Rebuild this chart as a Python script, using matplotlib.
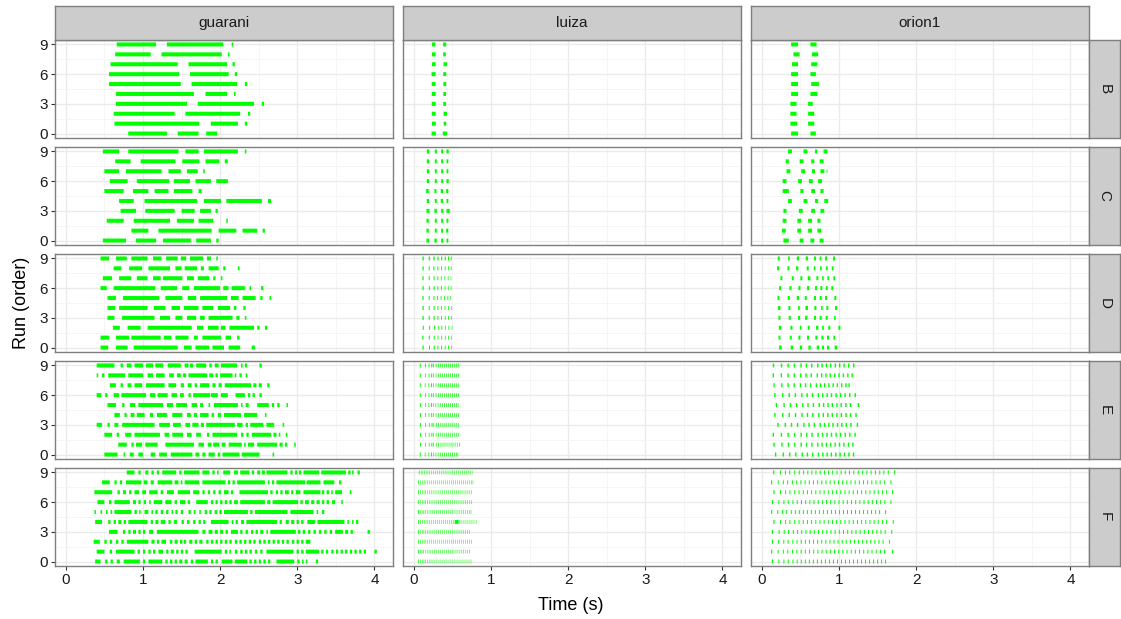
import matplotlib
matplotlib.use("Agg")
import matplotlib.pyplot as plt

plt.rcParams['font.family'] = ['Liberation Sans', 'DejaVu Sans']

# ---- data: one list per run (run 0 first), each run = list of (start, end) in seconds ----
configs = ['B', 'C', 'D', 'E', 'F']
machines = ['guarani', 'luiza', 'orion1']
x_ticks = [0, 1, 2, 3, 4]
y_ticks = [0, 3, 6, 9]

guarani_B = [
    [(0.81, 1.31), (1.45, 1.72), (1.82, 1.96)],
    [(0.63, 1.73), (1.88, 2.23), (2.32, 2.35)],
    [(0.62, 1.41), (1.55, 2.26), (2.36, 2.39)],
    [(0.65, 1.57), (1.71, 2.44), (2.54, 2.57)],
    [(0.65, 1.66), (1.81, 2.09), (2.18, 2.20)],
    [(0.56, 1.49), (1.63, 2.22), (2.32, 2.35)],
    [(0.56, 1.47), (1.61, 2.11), (2.19, 2.22)],
    [(0.58, 1.45), (1.59, 2.09), (2.16, 2.19)],
    [(0.64, 1.10), (1.24, 2.02), (2.10, 2.12)],
    [(0.66, 1.17), (1.31, 2.04), (2.15, 2.17)],
]
guarani_C = [
    [(0.48, 0.78), (0.91, 1.17), (1.26, 1.62), (1.69, 1.88), (1.95, 1.98)],
    [(0.85, 1.07), (1.20, 1.89), (1.98, 2.21), (2.29, 2.48), (2.55, 2.58)],
    [(0.53, 0.75), (0.88, 1.35), (1.44, 1.66), (1.72, 1.91), (2.08, 2.10)],
    [(0.71, 0.91), (1.03, 1.41), (1.50, 1.67), (1.74, 1.88), (1.94, 1.97)],
    [(0.69, 0.88), (1.02, 1.70), (1.79, 2.01), (2.08, 2.54), (2.62, 2.66)],
    [(0.50, 0.75), (0.87, 1.07), (1.15, 1.33), (1.40, 1.64), (1.72, 1.76)],
    [(0.57, 0.80), (0.92, 1.34), (1.40, 1.61), (1.68, 1.88), (1.95, 2.10)],
    [(0.50, 0.69), (0.78, 1.24), (1.33, 1.49), (1.57, 1.71), (1.78, 1.80)],
    [(0.64, 0.84), (0.97, 1.42), (1.51, 1.73), (1.81, 1.99), (2.06, 2.10)],
    [(0.48, 0.69), (0.81, 1.46), (1.55, 1.72), (1.79, 2.23), (2.32, 2.34)],
]
guarani_D = [
    [(0.45, 0.55), (0.65, 0.80), (0.88, 1.45), (1.53, 1.63), (1.68, 1.86), (1.90, 2.05), (2.11, 2.26), (2.41, 2.45)],
    [(0.45, 0.56), (0.65, 0.82), (0.85, 1.23), (1.27, 1.37), (1.42, 1.59), (1.66, 1.71), (1.77, 2.01), (2.07, 2.14), (2.22, 2.25)],
    [(0.61, 0.70), (0.80, 0.97), (1.06, 1.63), (1.70, 1.78), (1.84, 1.98), (2.01, 2.07), (2.12, 2.44), (2.48, 2.51), (2.58, 2.61)],
    [(0.54, 0.63), (0.73, 1.15), (1.22, 1.35), (1.42, 1.51), (1.57, 1.69), (1.74, 1.80), (1.85, 2.16), (2.21, 2.25), (2.32, 2.34)],
    [(0.54, 0.64), (0.69, 1.06), (1.14, 1.29), (1.37, 1.48), (1.53, 1.72), (1.77, 1.91), (1.97, 2.13), (2.18, 2.21), (2.30, 2.33)],
    [(0.54, 0.65), (0.74, 1.21), (1.29, 1.51), (1.58, 1.69), (1.74, 2.09), (2.14, 2.24), (2.29, 2.46), (2.52, 2.55), (2.64, 2.66)],
    [(0.45, 0.53), (0.62, 1.16), (1.23, 1.44), (1.51, 1.60), (1.66, 2.00), (2.04, 2.11), (2.15, 2.32), (2.38, 2.40), (2.53, 2.56)],
    [(0.48, 0.60), (0.69, 0.85), (0.92, 1.06), (1.13, 1.23), (1.26, 1.51), (1.57, 1.66), (1.71, 1.86), (1.91, 1.94), (2.01, 2.03)],
    [(0.62, 0.72), (0.82, 0.99), (1.07, 1.35), (1.42, 1.50), (1.54, 1.70), (1.75, 1.79), (1.85, 1.98), (2.04, 2.07), (2.23, 2.25)],
    [(0.45, 0.56), (0.65, 0.79), (0.85, 1.06), (1.13, 1.24), (1.30, 1.45), (1.49, 1.56), (1.61, 1.78), (1.83, 1.88), (1.95, 1.97)],
]
guarani_E = [
    [(0.50, 0.67), (0.75, 0.77), (0.83, 0.88), (0.94, 1.00), (1.10, 1.16), (1.21, 1.31), (1.36, 1.64), (1.68, 1.73), (1.77, 1.81),
     (1.85, 1.93), (1.97, 2.00), (2.03, 2.25), (2.28, 2.51), (2.68, 2.70)],
    [(0.68, 0.79), (0.85, 0.88), (0.91, 0.99), (1.03, 1.19), (1.29, 1.66), (1.72, 1.79), (1.84, 1.89), (1.91, 1.99), (2.02, 2.07),
     (2.11, 2.28), (2.31, 2.33), (2.36, 2.44), (2.48, 2.74), (2.77, 2.81), (2.84, 2.87), (2.96, 2.98)],
    [(0.50, 0.60), (0.66, 0.69), (0.77, 0.85), (0.89, 1.22), (1.28, 1.34), (1.38, 1.52), (1.57, 1.63), (1.69, 1.75), (1.83, 1.86),
     (1.90, 2.22), (2.27, 2.30), (2.34, 2.37), (2.41, 2.66), (2.69, 2.73), (2.76, 2.78), (2.85, 2.87)],
    [(0.40, 0.47), (0.54, 0.57), (0.63, 0.68), (0.73, 1.15), (1.21, 1.35), (1.39, 1.49), (1.55, 1.61), (1.64, 1.72), (1.75, 1.79),
     (1.82, 2.19), (2.22, 2.29), (2.33, 2.36), (2.39, 2.56), (2.60, 2.70), (2.81, 2.83)],
    [(0.63, 0.70), (0.76, 0.79), (0.84, 0.89), (0.92, 1.02), (1.09, 1.13), (1.18, 1.31), (1.38, 1.51), (1.57, 1.62), (1.66, 1.70),
     (1.74, 1.85), (1.89, 1.92), (1.97, 2.01), (2.05, 2.27), (2.31, 2.48), (2.58, 2.60)],
    [(0.54, 0.65), (0.73, 0.76), (0.83, 0.90), (0.94, 1.26), (1.31, 1.39), (1.43, 1.57), (1.63, 1.70), (1.74, 1.78), (1.85, 1.87),
     (1.92, 2.23), (2.27, 2.29), (2.33, 2.37), (2.48, 2.63), (2.67, 2.70), (2.74, 2.77), (2.86, 2.88)],
    [(0.40, 0.46), (0.51, 0.54), (0.62, 0.69), (0.72, 1.04), (1.09, 1.16), (1.19, 1.32), (1.37, 1.44), (1.48, 1.53), (1.59, 1.62),
     (1.65, 1.87), (1.88, 1.97), (2.01, 2.10), (2.20, 2.32), (2.36, 2.39), (2.42, 2.45), (2.51, 2.54)],
    [(0.57, 0.65), (0.71, 0.74), (0.80, 0.85), (0.89, 0.99), (1.04, 1.28), (1.33, 1.43), (1.49, 1.53), (1.58, 1.63), (1.67, 1.70),
     (1.74, 1.86), (1.90, 1.94), (1.98, 2.02), (2.06, 2.40), (2.43, 2.47), (2.50, 2.54), (2.61, 2.64)],
    [(0.40, 0.42), (0.47, 0.50), (0.55, 0.77), (0.81, 1.00), (1.06, 1.13), (1.17, 1.28), (1.34, 1.40), (1.44, 1.49), (1.52, 1.56),
     (1.59, 1.83), (1.86, 1.91), (1.94, 1.97), (2.00, 2.16), (2.19, 2.21), (2.25, 2.28), (2.33, 2.35)],
    [(0.40, 0.63), (0.71, 0.74), (0.79, 0.85), (0.89, 1.00), (1.04, 1.13), (1.16, 1.26), (1.32, 1.49), (1.54, 1.59), (1.61, 1.65),
     (1.69, 1.82), (1.86, 1.89), (1.93, 1.98), (2.01, 2.22), (2.27, 2.29), (2.32, 2.35), (2.51, 2.54)],
]
guarani_F = [
    [(0.38, 0.45), (0.51, 0.54), (0.58, 0.61), (0.66, 0.70), (0.75, 0.96), (1.00, 1.03), (1.07, 1.25), (1.29, 1.32), (1.35, 1.38),
     (1.41, 1.44), (1.47, 1.51), (1.54, 1.58), (1.62, 1.65), (1.68, 1.84), (1.88, 1.91), (1.94, 1.97), (2.02, 2.16), (2.19, 2.35),
     (2.38, 2.41), (2.44, 2.47), (2.50, 2.53), (2.56, 2.59), (2.62, 2.65), (2.73, 2.96), (3.00, 3.03), (3.06, 3.08), (3.11, 3.13),
     (3.24, 3.27)],
    [(0.40, 0.50), (0.57, 0.60), (0.65, 0.89), (0.93, 0.96), (1.00, 1.03), (1.07, 1.10), (1.13, 1.16), (1.20, 1.26), (1.30, 1.33),
     (1.36, 1.40), (1.43, 1.46), (1.49, 1.52), (1.55, 1.58), (1.67, 2.02), (2.06, 2.09), (2.12, 2.14), (2.19, 2.22), (2.26, 2.29),
     (2.32, 2.35), (2.38, 2.41), (2.45, 2.48), (2.52, 2.55), (2.60, 2.95), (2.99, 3.02), (3.05, 3.08), (3.11, 3.28), (3.31, 3.34),
     (3.37, 3.40), (3.44, 3.47), (3.50, 3.53), (3.56, 3.59), (3.62, 3.65), (3.68, 3.71), (3.74, 3.77), (3.80, 3.83), (3.86, 3.89),
     (4.00, 4.03)],
    [(0.36, 0.44), (0.50, 0.53), (0.57, 0.60), (0.65, 0.68), (0.72, 0.75), (0.79, 1.07), (1.11, 1.15), (1.18, 1.21), (1.24, 1.30),
     (1.35, 1.38), (1.41, 1.45), (1.48, 1.51), (1.53, 1.56), (1.60, 1.64), (1.67, 1.70), (1.73, 1.77), (1.82, 1.85), (1.88, 1.91),
     (1.94, 1.97), (2.00, 2.03), (2.06, 2.09), (2.12, 2.15), (2.19, 2.22), (2.25, 2.28), (2.31, 2.34), (2.37, 2.40), (2.43, 2.46),
     (2.50, 2.53), (2.56, 2.59), (2.62, 2.65), (2.68, 2.71), (2.74, 2.77), (2.80, 2.83), (2.86, 2.89), (2.93, 2.96), (2.99, 3.02),
     (3.05, 3.08), (3.11, 3.17)],
    [(0.56, 0.67), (0.74, 0.77), (0.81, 0.84), (0.87, 0.91), (0.94, 0.97), (1.00, 1.03), (1.08, 1.13), (1.18, 1.72), (1.77, 1.81),
     (1.85, 1.90), (1.93, 1.97), (2.00, 2.04), (2.07, 2.10), (2.14, 2.23), (2.26, 2.29), (2.33, 2.36), (2.40, 2.43), (2.46, 2.49),
     (2.52, 2.56), (2.60, 2.62), (2.65, 2.98), (3.01, 3.04), (3.07, 3.10), (3.14, 3.17), (3.21, 3.24), (3.28, 3.31), (3.35, 3.38),
     (3.42, 3.45), (3.49, 3.59), (3.62, 3.66), (3.69, 3.72), (3.91, 3.94)],
    [(0.38, 0.47), (0.55, 0.58), (0.62, 0.65), (0.68, 0.72), (0.75, 0.78), (0.81, 1.06), (1.10, 1.13), (1.16, 1.20), (1.23, 1.29),
     (1.33, 1.36), (1.40, 1.44), (1.50, 1.53), (1.57, 1.60), (1.65, 1.68), (1.72, 1.75), (1.78, 1.81), (1.88, 2.11), (2.15, 2.17),
     (2.20, 2.23), (2.27, 2.31), (2.34, 2.74), (2.77, 2.80), (2.85, 2.89), (2.92, 2.96), (2.99, 3.02), (3.05, 3.08), (3.13, 3.23),
     (3.26, 3.61), (3.65, 3.67), (3.71, 3.73), (3.76, 3.79)],
    [(0.37, 0.39), (0.45, 0.47), (0.52, 0.54), (0.58, 0.60), (0.63, 0.85), (0.89, 0.92), (0.95, 0.97), (1.02, 1.07), (1.11, 1.13),
     (1.16, 1.19), (1.23, 1.26), (1.30, 1.33), (1.37, 1.39), (1.42, 1.45), (1.49, 1.52), (1.59, 1.62), (1.66, 1.68), (1.73, 1.75),
     (1.80, 1.83), (1.86, 1.89), (1.93, 1.96), (1.99, 2.02), (2.05, 2.36), (2.39, 2.42), (2.45, 2.87), (2.91, 3.21), (3.25, 3.27),
     (3.32, 3.35)],
    [(0.41, 0.50), (0.56, 0.59), (0.63, 0.83), (0.87, 0.91), (0.94, 0.97), (1.01, 1.04), (1.08, 1.10), (1.14, 1.25), (1.29, 1.37),
     (1.41, 1.44), (1.48, 1.55), (1.58, 1.61), (1.69, 1.84), (1.88, 1.91), (1.94, 1.97), (2.00, 2.03), (2.06, 2.09), (2.12, 2.15),
     (2.18, 2.23), (2.26, 2.58), (2.61, 2.65), (2.68, 3.01), (3.04, 3.07), (3.10, 3.15), (3.18, 3.22), (3.25, 3.29), (3.32, 3.35),
     (3.38, 3.41), (3.45, 3.49), (3.57, 3.59)],
    [(0.37, 0.60), (0.67, 0.70), (0.74, 0.78), (0.82, 0.85), (0.89, 0.95), (0.99, 1.04), (1.08, 1.19), (1.23, 1.26), (1.31, 1.40),
     (1.45, 1.61), (1.65, 1.73), (1.77, 1.80), (1.84, 1.87), (1.91, 1.94), (1.98, 2.01), (2.05, 2.11), (2.14, 2.17), (2.25, 2.62),
     (2.65, 2.68), (2.72, 2.75), (2.78, 2.81), (2.84, 2.89), (2.92, 2.95), (2.98, 3.04), (3.08, 3.30), (3.32, 3.35), (3.38, 3.41),
     (3.44, 3.46), (3.49, 3.58), (3.68, 3.70)],
    [(0.47, 0.57), (0.63, 0.66), (0.70, 0.73), (0.78, 0.98), (1.01, 1.06), (1.10, 1.14), (1.19, 1.38), (1.41, 1.46), (1.49, 1.51),
     (1.54, 1.73), (1.77, 2.07), (2.10, 2.13), (2.16, 2.19), (2.22, 2.58), (2.62, 2.64), (2.67, 2.70), (2.73, 3.10), (3.12, 3.30),
     (3.34, 3.48), (3.54, 3.57)],
    [(0.79, 0.89), (0.94, 0.97), (1.03, 1.07), (1.11, 1.14), (1.18, 1.21), (1.25, 1.43), (1.47, 1.50), (1.53, 1.73), (1.77, 1.86),
     (1.90, 1.93), (1.96, 1.98), (2.04, 2.13), (2.18, 2.23), (2.26, 2.38), (2.41, 2.44), (2.48, 2.52), (2.54, 2.58), (2.60, 2.87),
     (2.91, 2.94), (2.97, 3.00), (3.02, 3.05), (3.08, 3.28), (3.31, 3.63), (3.66, 3.69), (3.71, 3.73), (3.78, 3.81)],
]

luiza_B = [
    [(0.230, 0.285), (0.375, 0.430)],
    [(0.235, 0.285), (0.387, 0.420)],
    [(0.232, 0.283), (0.385, 0.430)],
    [(0.232, 0.283), (0.382, 0.418)],
    [(0.232, 0.283), (0.382, 0.418)],
    [(0.232, 0.283), (0.382, 0.420)],
    [(0.230, 0.283), (0.382, 0.420)],
    [(0.235, 0.283), (0.385, 0.430)],
    [(0.235, 0.283), (0.380, 0.415)],
    [(0.235, 0.280), (0.380, 0.420)],
]
luiza_C = [
    [(0.164, 0.198), (0.267, 0.298), (0.354, 0.379), (0.423, 0.448)],
    [(0.164, 0.194), (0.272, 0.298), (0.354, 0.379), (0.418, 0.448)],
    [(0.164, 0.194), (0.272, 0.298), (0.354, 0.379), (0.423, 0.448)],
    [(0.164, 0.203), (0.267, 0.298), (0.354, 0.384), (0.423, 0.466)],
    [(0.168, 0.198), (0.272, 0.298), (0.349, 0.379), (0.423, 0.448)],
    [(0.160, 0.194), (0.267, 0.293), (0.349, 0.379), (0.418, 0.448)],
    [(0.168, 0.198), (0.272, 0.298), (0.354, 0.379), (0.423, 0.453)],
    [(0.168, 0.198), (0.272, 0.298), (0.354, 0.379), (0.423, 0.448)],
    [(0.168, 0.198), (0.272, 0.298), (0.354, 0.379), (0.423, 0.448)],
    [(0.168, 0.198), (0.272, 0.298), (0.354, 0.379), (0.423, 0.453)],
]
luiza_D = [
    [(0.112, 0.128), (0.197, 0.210), (0.258, 0.272), (0.306, 0.318), (0.354, 0.366), (0.401, 0.412), (0.444, 0.455), (0.484, 0.492)],
    [(0.110, 0.126), (0.195, 0.208), (0.258, 0.271), (0.308, 0.319), (0.356, 0.367), (0.403, 0.413), (0.446, 0.456), (0.486, 0.494)],
    [(0.116, 0.130), (0.198, 0.211), (0.263, 0.276), (0.311, 0.322), (0.358, 0.369), (0.405, 0.415), (0.449, 0.459), (0.492, 0.500)],
    [(0.112, 0.128), (0.194, 0.207), (0.256, 0.270), (0.306, 0.318), (0.354, 0.365), (0.402, 0.412), (0.445, 0.455), (0.484, 0.492)],
    [(0.112, 0.128), (0.194, 0.207), (0.256, 0.270), (0.306, 0.318), (0.352, 0.364), (0.399, 0.410), (0.444, 0.454), (0.482, 0.490)],
    [(0.112, 0.127), (0.193, 0.206), (0.255, 0.268), (0.302, 0.314), (0.348, 0.359), (0.393, 0.404), (0.436, 0.446), (0.470, 0.478)],
    [(0.112, 0.128), (0.196, 0.209), (0.256, 0.270), (0.306, 0.318), (0.352, 0.364), (0.399, 0.410), (0.441, 0.451), (0.478, 0.487)],
    [(0.112, 0.127), (0.194, 0.207), (0.256, 0.269), (0.305, 0.317), (0.351, 0.362), (0.397, 0.408), (0.440, 0.450), (0.478, 0.486)],
    [(0.112, 0.128), (0.194, 0.207), (0.254, 0.268), (0.306, 0.318), (0.354, 0.365), (0.401, 0.412), (0.444, 0.454), (0.480, 0.489)],
    [(0.112, 0.129), (0.194, 0.209), (0.254, 0.270), (0.306, 0.320), (0.354, 0.368), (0.401, 0.414), (0.444, 0.456), (0.479, 0.490)],
]
luiza_E = [
    [(0.078, 0.090), (0.143, 0.153), (0.190, 0.200), (0.224, 0.236), (0.249, 0.258), (0.282, 0.291), (0.311, 0.320), (0.340, 0.349),
     (0.366, 0.375), (0.392, 0.401), (0.417, 0.426), (0.443, 0.452), (0.469, 0.478), (0.495, 0.504), (0.520, 0.529), (0.546, 0.555),
     (0.566, 0.574)],
    [(0.082, 0.094), (0.147, 0.157), (0.194, 0.204), (0.228, 0.240), (0.252, 0.261), (0.287, 0.296), (0.317, 0.326), (0.347, 0.356),
     (0.374, 0.383), (0.400, 0.409), (0.426, 0.435), (0.452, 0.461), (0.478, 0.487), (0.504, 0.513), (0.531, 0.540), (0.558, 0.567),
     (0.586, 0.595)],
    [(0.082, 0.094), (0.147, 0.157), (0.194, 0.204), (0.228, 0.240), (0.251, 0.260), (0.285, 0.294), (0.315, 0.324), (0.345, 0.354),
     (0.371, 0.380), (0.397, 0.406), (0.422, 0.431), (0.448, 0.457), (0.474, 0.483), (0.500, 0.509), (0.526, 0.535), (0.552, 0.561),
     (0.578, 0.586)],
    [(0.082, 0.094), (0.149, 0.159), (0.196, 0.206), (0.230, 0.242), (0.254, 0.263), (0.288, 0.297), (0.317, 0.326), (0.346, 0.355),
     (0.372, 0.381), (0.398, 0.407), (0.423, 0.432), (0.449, 0.458), (0.475, 0.484), (0.501, 0.510), (0.527, 0.536), (0.553, 0.562),
     (0.578, 0.586)],
    [(0.082, 0.094), (0.145, 0.155), (0.192, 0.202), (0.226, 0.238), (0.250, 0.259), (0.284, 0.293), (0.314, 0.323), (0.344, 0.353),
     (0.370, 0.379), (0.396, 0.405), (0.421, 0.430), (0.447, 0.456), (0.473, 0.482), (0.499, 0.508), (0.525, 0.534), (0.551, 0.560),
     (0.577, 0.586)],
    [(0.082, 0.094), (0.145, 0.155), (0.190, 0.200), (0.224, 0.236), (0.248, 0.257), (0.280, 0.289), (0.310, 0.319), (0.339, 0.348),
     (0.365, 0.374), (0.391, 0.400), (0.417, 0.426), (0.443, 0.452), (0.469, 0.478), (0.495, 0.504), (0.521, 0.530), (0.547, 0.556),
     (0.570, 0.578)],
    [(0.078, 0.090), (0.145, 0.155), (0.192, 0.202), (0.226, 0.238), (0.250, 0.259), (0.284, 0.293), (0.314, 0.323), (0.344, 0.353),
     (0.370, 0.379), (0.396, 0.405), (0.421, 0.430), (0.447, 0.456), (0.473, 0.482), (0.499, 0.508), (0.525, 0.534), (0.551, 0.560),
     (0.577, 0.586)],
    [(0.078, 0.090), (0.143, 0.153), (0.190, 0.200), (0.224, 0.236), (0.248, 0.257), (0.283, 0.292), (0.313, 0.322), (0.343, 0.352),
     (0.369, 0.378), (0.395, 0.404), (0.420, 0.429), (0.446, 0.455), (0.472, 0.481), (0.498, 0.507), (0.524, 0.533), (0.550, 0.559),
     (0.577, 0.586)],
    [(0.078, 0.090), (0.145, 0.155), (0.192, 0.202), (0.226, 0.238), (0.250, 0.259), (0.284, 0.293), (0.314, 0.323), (0.344, 0.353),
     (0.370, 0.379), (0.396, 0.405), (0.421, 0.430), (0.447, 0.456), (0.473, 0.482), (0.499, 0.508), (0.525, 0.534), (0.551, 0.560),
     (0.577, 0.586)],
    [(0.078, 0.090), (0.145, 0.156), (0.192, 0.203), (0.226, 0.240), (0.250, 0.260), (0.284, 0.294), (0.314, 0.324), (0.344, 0.354),
     (0.370, 0.380), (0.396, 0.406), (0.421, 0.431), (0.447, 0.457), (0.473, 0.483), (0.499, 0.509), (0.525, 0.535), (0.551, 0.561),
     (0.577, 0.586)],
]
luiza_F = [
    [(0.056, 0.066), (0.085, 0.092), (0.108, 0.115), (0.128, 0.135), (0.150, 0.157), (0.172, 0.179), (0.196, 0.203), (0.220, 0.227),
     (0.245, 0.252), (0.270, 0.277), (0.296, 0.303), (0.322, 0.329), (0.348, 0.355), (0.374, 0.381), (0.400, 0.407), (0.426, 0.433),
     (0.452, 0.459), (0.478, 0.485), (0.504, 0.511), (0.530, 0.537), (0.556, 0.563), (0.582, 0.589), (0.608, 0.615), (0.634, 0.641),
     (0.660, 0.667), (0.686, 0.693), (0.712, 0.719), (0.738, 0.745)],
    [(0.056, 0.066), (0.082, 0.089), (0.104, 0.111), (0.125, 0.132), (0.146, 0.153), (0.170, 0.177), (0.194, 0.201), (0.218, 0.225),
     (0.243, 0.250), (0.268, 0.275), (0.293, 0.300), (0.318, 0.325), (0.343, 0.350), (0.368, 0.375), (0.393, 0.400), (0.418, 0.425),
     (0.443, 0.450), (0.468, 0.475), (0.493, 0.500), (0.518, 0.525), (0.543, 0.550), (0.568, 0.575), (0.593, 0.600), (0.618, 0.625),
     (0.643, 0.650), (0.668, 0.675), (0.693, 0.700), (0.718, 0.725)],
    [(0.056, 0.066), (0.085, 0.092), (0.110, 0.117), (0.130, 0.137), (0.152, 0.159), (0.175, 0.182), (0.199, 0.206), (0.224, 0.231),
     (0.249, 0.256), (0.274, 0.281), (0.300, 0.307), (0.326, 0.333), (0.352, 0.359), (0.378, 0.385), (0.404, 0.411), (0.430, 0.437),
     (0.456, 0.463), (0.482, 0.489), (0.508, 0.515), (0.534, 0.541), (0.560, 0.567), (0.586, 0.593), (0.612, 0.619), (0.638, 0.645),
     (0.664, 0.671), (0.690, 0.697), (0.716, 0.723), (0.742, 0.749)],
    [(0.056, 0.066), (0.084, 0.091), (0.106, 0.113), (0.127, 0.134), (0.148, 0.155), (0.171, 0.178), (0.195, 0.202), (0.219, 0.226),
     (0.244, 0.251), (0.269, 0.276), (0.294, 0.301), (0.319, 0.326), (0.344, 0.351), (0.369, 0.376), (0.394, 0.401), (0.419, 0.426),
     (0.444, 0.451), (0.469, 0.476), (0.494, 0.501), (0.519, 0.526), (0.544, 0.551), (0.569, 0.576), (0.594, 0.601), (0.619, 0.626),
     (0.644, 0.651), (0.669, 0.676), (0.694, 0.701), (0.719, 0.726)],
    [(0.056, 0.066), (0.086, 0.093), (0.110, 0.117), (0.132, 0.139), (0.155, 0.162), (0.178, 0.185), (0.202, 0.209), (0.227, 0.234),
     (0.252, 0.259), (0.278, 0.285), (0.304, 0.311), (0.330, 0.337), (0.356, 0.363), (0.382, 0.389), (0.408, 0.415), (0.434, 0.441),
     (0.460, 0.467), (0.486, 0.493), (0.512, 0.519), (0.530, 0.581), (0.594, 0.601), (0.620, 0.627), (0.646, 0.653), (0.672, 0.679),
     (0.698, 0.705), (0.724, 0.731), (0.750, 0.757), (0.776, 0.783), (0.804, 0.811)],
    [(0.056, 0.066), (0.083, 0.090), (0.105, 0.112), (0.126, 0.133), (0.147, 0.154), (0.170, 0.177), (0.194, 0.201), (0.218, 0.225),
     (0.243, 0.250), (0.268, 0.275), (0.293, 0.300), (0.318, 0.325), (0.343, 0.350), (0.368, 0.375), (0.393, 0.400), (0.418, 0.425),
     (0.443, 0.450), (0.468, 0.475), (0.493, 0.500), (0.518, 0.525), (0.543, 0.550), (0.568, 0.575), (0.593, 0.600), (0.618, 0.625),
     (0.643, 0.650), (0.668, 0.675), (0.693, 0.700), (0.718, 0.725), (0.738, 0.745)],
    [(0.056, 0.066), (0.084, 0.091), (0.107, 0.114), (0.128, 0.135), (0.149, 0.156), (0.172, 0.179), (0.196, 0.203), (0.220, 0.227),
     (0.245, 0.252), (0.270, 0.277), (0.295, 0.302), (0.320, 0.327), (0.345, 0.352), (0.370, 0.377), (0.395, 0.402), (0.420, 0.427),
     (0.445, 0.452), (0.470, 0.477), (0.495, 0.502), (0.520, 0.527), (0.545, 0.552), (0.570, 0.577), (0.595, 0.602), (0.620, 0.627),
     (0.645, 0.652), (0.670, 0.677), (0.695, 0.702), (0.720, 0.727), (0.745, 0.752)],
    [(0.056, 0.066), (0.084, 0.091), (0.107, 0.114), (0.129, 0.136), (0.151, 0.158), (0.174, 0.181), (0.198, 0.205), (0.222, 0.229),
     (0.247, 0.254), (0.272, 0.279), (0.297, 0.304), (0.322, 0.329), (0.347, 0.354), (0.372, 0.379), (0.397, 0.404), (0.422, 0.429),
     (0.447, 0.454), (0.472, 0.479), (0.497, 0.504), (0.522, 0.529), (0.547, 0.554), (0.572, 0.579), (0.597, 0.604), (0.622, 0.629),
     (0.647, 0.654), (0.672, 0.679), (0.697, 0.704), (0.722, 0.729), (0.746, 0.753)],
    [(0.056, 0.066), (0.085, 0.092), (0.109, 0.116), (0.131, 0.138), (0.153, 0.160), (0.176, 0.183), (0.200, 0.207), (0.225, 0.232),
     (0.250, 0.257), (0.275, 0.282), (0.300, 0.307), (0.326, 0.333), (0.352, 0.359), (0.378, 0.385), (0.404, 0.411), (0.430, 0.437),
     (0.456, 0.463), (0.482, 0.489), (0.508, 0.515), (0.534, 0.541), (0.560, 0.567), (0.586, 0.593), (0.612, 0.619), (0.638, 0.645),
     (0.664, 0.671), (0.690, 0.697), (0.716, 0.723), (0.742, 0.749), (0.763, 0.770)],
    [(0.065, 0.075), (0.092, 0.099), (0.114, 0.121), (0.135, 0.142), (0.156, 0.163), (0.179, 0.186), (0.203, 0.210), (0.227, 0.234),
     (0.252, 0.259), (0.277, 0.284), (0.302, 0.309), (0.327, 0.334), (0.352, 0.359), (0.377, 0.384), (0.402, 0.409), (0.427, 0.434),
     (0.452, 0.459), (0.477, 0.484), (0.502, 0.509), (0.527, 0.534), (0.552, 0.559), (0.577, 0.584), (0.602, 0.609), (0.627, 0.634),
     (0.652, 0.659), (0.677, 0.684), (0.702, 0.709), (0.727, 0.734), (0.752, 0.759)],
]

orion1_B = [
    [(0.38, 0.47), (0.63, 0.70)],
    [(0.37, 0.46), (0.60, 0.68)],
    [(0.37, 0.45), (0.60, 0.68)],
    [(0.37, 0.45), (0.60, 0.66)],
    [(0.38, 0.47), (0.63, 0.72)],
    [(0.38, 0.47), (0.64, 0.74)],
    [(0.38, 0.47), (0.63, 0.70)],
    [(0.39, 0.47), (0.64, 0.72)],
    [(0.41, 0.49), (0.65, 0.73)],
    [(0.38, 0.47), (0.63, 0.71)],
]
orion1_C = [
    [(0.28, 0.35), (0.49, 0.54), (0.63, 0.68), (0.75, 0.80)],
    [(0.26, 0.31), (0.46, 0.51), (0.60, 0.65), (0.72, 0.77)],
    [(0.27, 0.32), (0.46, 0.51), (0.60, 0.65), (0.72, 0.76)],
    [(0.28, 0.32), (0.48, 0.53), (0.64, 0.69), (0.76, 0.81)],
    [(0.34, 0.39), (0.54, 0.59), (0.69, 0.73), (0.81, 0.86)],
    [(0.27, 0.35), (0.50, 0.54), (0.64, 0.69), (0.76, 0.80)],
    [(0.27, 0.32), (0.47, 0.52), (0.61, 0.66), (0.73, 0.78)],
    [(0.32, 0.37), (0.51, 0.56), (0.65, 0.69), (0.76, 0.81), (0.84, 0.85)],
    [(0.31, 0.35), (0.49, 0.54), (0.64, 0.68), (0.75, 0.80)],
    [(0.34, 0.39), (0.54, 0.59), (0.69, 0.72), (0.80, 0.85)],
]
orion1_D = [
    [(0.224, 0.259), (0.375, 0.405), (0.492, 0.522), (0.604, 0.634), (0.712, 0.742), (0.781, 0.806), (0.845, 0.871), (0.944, 0.975)],
    [(0.216, 0.241), (0.362, 0.388), (0.474, 0.500), (0.586, 0.612), (0.694, 0.720), (0.772, 0.798), (0.845, 0.871), (0.927, 0.949)],
    [(0.220, 0.250), (0.371, 0.397), (0.492, 0.513), (0.595, 0.621), (0.703, 0.733), (0.781, 0.802), (0.862, 0.888), (0.992, 1.018)],
    [(0.216, 0.241), (0.349, 0.375), (0.470, 0.496), (0.561, 0.591), (0.677, 0.703), (0.750, 0.776), (0.828, 0.854), (0.936, 0.957)],
    [(0.211, 0.241), (0.345, 0.371), (0.470, 0.492), (0.565, 0.599), (0.681, 0.707), (0.768, 0.789), (0.837, 0.862), (0.949, 0.975)],
    [(0.203, 0.229), (0.336, 0.362), (0.453, 0.483), (0.556, 0.582), (0.677, 0.703), (0.750, 0.776), (0.819, 0.845), (0.940, 0.966)],
    [(0.224, 0.250), (0.358, 0.384), (0.474, 0.500), (0.586, 0.617), (0.690, 0.716), (0.759, 0.785), (0.832, 0.854), (0.901, 0.927)],
    [(0.241, 0.267), (0.388, 0.414), (0.500, 0.526), (0.595, 0.630), (0.707, 0.733), (0.781, 0.802), (0.850, 0.871), (0.927, 0.949)],
    [(0.198, 0.224), (0.332, 0.358), (0.444, 0.474), (0.582, 0.608), (0.673, 0.694), (0.755, 0.776), (0.832, 0.854), (0.906, 0.931)],
    [(0.207, 0.233), (0.341, 0.362), (0.453, 0.483), (0.569, 0.599), (0.677, 0.703), (0.750, 0.772), (0.819, 0.845), (0.923, 0.949)],
]
orion1_E = [
    [(0.170, 0.188), (0.270, 0.288), (0.352, 0.370), (0.432, 0.450), (0.515, 0.533), (0.582, 0.600), (0.650, 0.668), (0.725, 0.743),
     (0.782, 0.800), (0.838, 0.856), (0.892, 0.910), (0.950, 0.968), (1.005, 1.023), (1.062, 1.080), (1.120, 1.138), (1.180, 1.198)],
    [(0.150, 0.168), (0.252, 0.270), (0.336, 0.354), (0.418, 0.436), (0.502, 0.520), (0.570, 0.588), (0.640, 0.658), (0.716, 0.734),
     (0.772, 0.790), (0.828, 0.846), (0.884, 0.902), (0.942, 0.960), (0.998, 1.016), (1.055, 1.073), (1.114, 1.132), (1.172, 1.190)],
    [(0.140, 0.158), (0.245, 0.263), (0.332, 0.350), (0.416, 0.434), (0.502, 0.520), (0.572, 0.590), (0.642, 0.660), (0.720, 0.738),
     (0.778, 0.796), (0.836, 0.854), (0.894, 0.912), (0.954, 0.972), (1.012, 1.030), (1.072, 1.090), (1.132, 1.150), (1.200, 1.218)],
    [(0.200, 0.218), (0.296, 0.314), (0.376, 0.394), (0.454, 0.472), (0.536, 0.554), (0.604, 0.622), (0.672, 0.690), (0.748, 0.766),
     (0.804, 0.822), (0.860, 0.878), (0.914, 0.932), (0.972, 0.990), (1.028, 1.046), (1.086, 1.104), (1.146, 1.164), (1.230, 1.248)],
    [(0.160, 0.178), (0.262, 0.280), (0.346, 0.364), (0.428, 0.446), (0.512, 0.530), (0.582, 0.600), (0.652, 0.670), (0.730, 0.748),
     (0.788, 0.806), (0.846, 0.864), (0.904, 0.922), (0.964, 0.982), (1.022, 1.040), (1.082, 1.100), (1.142, 1.160), (1.212, 1.230)],
    [(0.180, 0.198), (0.280, 0.298), (0.362, 0.380), (0.440, 0.458), (0.522, 0.540), (0.590, 0.608), (0.660, 0.678), (0.735, 0.753),
     (0.792, 0.810), (0.850, 0.868), (0.905, 0.923), (0.965, 0.983), (1.020, 1.038), (1.080, 1.098), (1.140, 1.158), (1.242, 1.260)],
    [(0.160, 0.178), (0.262, 0.280), (0.346, 0.364), (0.426, 0.444), (0.510, 0.528), (0.578, 0.596), (0.648, 0.666), (0.724, 0.742),
     (0.780, 0.798), (0.838, 0.856), (0.894, 0.912), (0.954, 0.972), (1.012, 1.030), (1.070, 1.088), (1.130, 1.148), (1.202, 1.220)],
    [(0.150, 0.168), (0.250, 0.268), (0.332, 0.350), (0.410, 0.428), (0.492, 0.510), (0.558, 0.576), (0.624, 0.642), (0.698, 0.716),
     (0.752, 0.770), (0.806, 0.824), (0.860, 0.878), (0.916, 0.934), (0.970, 0.988), (1.026, 1.044), (1.082, 1.100), (1.122, 1.140)],
    [(0.140, 0.158), (0.244, 0.262), (0.330, 0.348), (0.412, 0.430), (0.496, 0.514), (0.564, 0.582), (0.632, 0.650), (0.710, 0.728),
     (0.766, 0.784), (0.822, 0.840), (0.878, 0.896), (0.936, 0.954), (0.992, 1.010), (1.048, 1.066), (1.106, 1.124), (1.162, 1.180)],
    [(0.142, 0.160), (0.246, 0.264), (0.332, 0.350), (0.414, 0.432), (0.500, 0.518), (0.569, 0.587), (0.638, 0.656), (0.716, 0.734),
     (0.772, 0.790), (0.828, 0.846), (0.884, 0.902), (0.944, 0.962), (1.000, 1.018), (1.057, 1.075), (1.117, 1.135), (1.182, 1.200)],
]
orion1_F = [
    [(0.130, 0.145), (0.215, 0.228), (0.280, 0.293), (0.336, 0.349), (0.398, 0.411), (0.452, 0.465), (0.506, 0.519), (0.558, 0.571),
     (0.610, 0.623), (0.662, 0.675), (0.714, 0.727), (0.766, 0.779), (0.818, 0.831), (0.870, 0.883), (0.922, 0.935), (0.974, 0.987),
     (1.026, 1.039), (1.078, 1.091), (1.130, 1.143), (1.182, 1.195), (1.234, 1.247), (1.286, 1.299), (1.338, 1.351), (1.390, 1.403),
     (1.442, 1.455), (1.494, 1.507), (1.546, 1.559), (1.597, 1.610)],
    [(0.120, 0.135), (0.205, 0.218), (0.272, 0.285), (0.330, 0.343), (0.392, 0.405), (0.448, 0.461), (0.504, 0.517), (0.558, 0.571),
     (0.612, 0.625), (0.666, 0.679), (0.720, 0.733), (0.774, 0.787), (0.828, 0.841), (0.882, 0.895), (0.936, 0.949), (0.990, 1.003),
     (1.044, 1.057), (1.098, 1.111), (1.152, 1.165), (1.206, 1.219), (1.260, 1.273), (1.314, 1.327), (1.368, 1.381), (1.422, 1.435),
     (1.476, 1.489), (1.530, 1.543), (1.584, 1.597), (1.686, 1.699)],
    [(0.130, 0.145), (0.212, 0.225), (0.278, 0.291), (0.334, 0.347), (0.396, 0.409), (0.450, 0.463), (0.505, 0.518), (0.558, 0.571),
     (0.611, 0.624), (0.664, 0.677), (0.717, 0.730), (0.770, 0.783), (0.823, 0.836), (0.876, 0.889), (0.929, 0.942), (0.982, 0.995),
     (1.035, 1.048), (1.088, 1.101), (1.141, 1.154), (1.194, 1.207), (1.247, 1.260), (1.300, 1.313), (1.353, 1.366), (1.406, 1.419),
     (1.459, 1.472), (1.512, 1.525), (1.565, 1.578), (1.647, 1.660)],
    [(0.130, 0.145), (0.218, 0.231), (0.284, 0.297), (0.340, 0.353), (0.402, 0.415), (0.457, 0.470), (0.512, 0.525), (0.566, 0.579),
     (0.620, 0.633), (0.674, 0.687), (0.728, 0.741), (0.782, 0.795), (0.836, 0.849), (0.890, 0.903), (0.944, 0.957), (0.998, 1.011),
     (1.052, 1.065), (1.106, 1.119), (1.160, 1.173), (1.214, 1.227), (1.268, 1.281), (1.322, 1.335), (1.376, 1.389), (1.430, 1.443),
     (1.484, 1.497), (1.538, 1.551), (1.592, 1.605), (1.677, 1.690)],
    [(0.150, 0.165), (0.236, 0.249), (0.302, 0.315), (0.358, 0.371), (0.420, 0.433), (0.476, 0.489), (0.531, 0.544), (0.585, 0.598),
     (0.639, 0.652), (0.693, 0.706), (0.747, 0.760), (0.801, 0.814), (0.855, 0.868), (0.909, 0.922), (0.963, 0.976), (1.017, 1.030),
     (1.071, 1.084), (1.125, 1.138), (1.179, 1.192), (1.233, 1.246), (1.287, 1.300), (1.341, 1.354), (1.395, 1.408), (1.449, 1.462),
     (1.503, 1.516), (1.557, 1.570), (1.611, 1.624), (1.697, 1.710)],
    [(0.120, 0.135), (0.200, 0.213), (0.262, 0.275), (0.316, 0.329), (0.376, 0.389), (0.428, 0.441), (0.480, 0.493), (0.532, 0.545),
     (0.584, 0.597), (0.636, 0.649), (0.688, 0.701), (0.740, 0.753), (0.792, 0.805), (0.844, 0.857), (0.896, 0.909), (0.948, 0.961),
     (1.000, 1.013), (1.052, 1.065), (1.104, 1.117), (1.156, 1.169), (1.208, 1.221), (1.260, 1.273), (1.312, 1.325), (1.364, 1.377),
     (1.416, 1.429), (1.468, 1.481), (1.520, 1.533), (1.597, 1.610)],
    [(0.130, 0.145), (0.214, 0.227), (0.280, 0.293), (0.336, 0.349), (0.398, 0.411), (0.453, 0.466), (0.508, 0.521), (0.562, 0.575),
     (0.616, 0.629), (0.670, 0.683), (0.724, 0.737), (0.778, 0.791), (0.832, 0.845), (0.886, 0.899), (0.940, 0.953), (0.994, 1.007),
     (1.048, 1.061), (1.102, 1.115), (1.156, 1.169), (1.210, 1.223), (1.264, 1.277), (1.318, 1.331), (1.372, 1.385), (1.426, 1.439),
     (1.480, 1.493), (1.534, 1.547), (1.588, 1.601), (1.667, 1.680)],
    [(0.150, 0.165), (0.236, 0.249), (0.302, 0.315), (0.358, 0.371), (0.420, 0.433), (0.476, 0.489), (0.531, 0.544), (0.585, 0.598),
     (0.639, 0.652), (0.693, 0.706), (0.747, 0.760), (0.801, 0.814), (0.855, 0.868), (0.909, 0.922), (0.963, 0.976), (1.017, 1.030),
     (1.071, 1.084), (1.125, 1.138), (1.179, 1.192), (1.233, 1.246), (1.287, 1.300), (1.341, 1.354), (1.395, 1.408), (1.449, 1.462),
     (1.503, 1.516), (1.557, 1.570), (1.611, 1.624), (1.687, 1.700)],
    [(0.120, 0.135), (0.206, 0.219), (0.272, 0.285), (0.328, 0.341), (0.390, 0.403), (0.446, 0.459), (0.501, 0.514), (0.555, 0.568),
     (0.609, 0.622), (0.663, 0.676), (0.717, 0.730), (0.771, 0.784), (0.825, 0.838), (0.879, 0.892), (0.933, 0.946), (0.987, 1.000),
     (1.041, 1.054), (1.095, 1.108), (1.149, 1.162), (1.203, 1.216), (1.257, 1.270), (1.311, 1.324), (1.365, 1.378), (1.419, 1.432),
     (1.473, 1.486), (1.527, 1.540), (1.581, 1.594), (1.667, 1.680)],
    [(0.147, 0.162), (0.235, 0.248), (0.300, 0.313), (0.355, 0.368), (0.420, 0.433), (0.478, 0.491), (0.535, 0.548), (0.590, 0.603),
     (0.642, 0.655), (0.695, 0.708), (0.750, 0.763), (0.805, 0.818), (0.858, 0.871), (0.912, 0.925), (0.968, 0.981), (1.022, 1.035),
     (1.075, 1.088), (1.130, 1.143), (1.185, 1.198), (1.243, 1.256), (1.300, 1.313), (1.355, 1.368), (1.410, 1.423), (1.466, 1.479),
     (1.522, 1.535), (1.575, 1.588), (1.632, 1.645), (1.715, 1.728)],
]

runs = {
    ('guarani', 'B'): guarani_B, ('guarani', 'C'): guarani_C, ('guarani', 'D'): guarani_D,
    ('guarani', 'E'): guarani_E, ('guarani', 'F'): guarani_F,
    ('luiza', 'B'): luiza_B, ('luiza', 'C'): luiza_C, ('luiza', 'D'): luiza_D,
    ('luiza', 'E'): luiza_E, ('luiza', 'F'): luiza_F,
    ('orion1', 'B'): orion1_B, ('orion1', 'C'): orion1_C, ('orion1', 'D'): orion1_D,
    ('orion1', 'E'): orion1_E, ('orion1', 'F'): orion1_F,
}

# ---- layout in pixels ----
W, H = 1121, 619
fig = plt.figure(figsize=(W / 100, H / 100), dpi=100, facecolor='white')


def px_axes(left, top, width, height):
    return fig.add_axes([left / W, 1 - (top + height) / H, width / W, height / H])


col_left = [55, 403, 751]
panel_w = 338
row_top = [40, 147, 254, 361, 468]
panel_h = 98
strip_top = 6
strip_right_w = 31

border = '#7f7f7f'
green = '#00ff00'

for j, m in enumerate(machines):
    for i, c in enumerate(configs):
        ax = px_axes(col_left[j], row_top[i], panel_w, panel_h)
        ax.set_facecolor('white')
        ax.set_xlim(-0.14, 4.24)
        ax.set_ylim(-0.45, 9.45)
        ax.set_xticks(x_ticks)
        ax.set_xticks([0.5, 1.5, 2.5, 3.5], minor=True)
        ax.set_yticks(y_ticks)
        ax.set_yticks([1.5, 4.5, 7.5], minor=True)
        ax.grid(which='major', color='#ebebeb', linewidth=1.0)
        ax.grid(which='minor', color='#f4f4f4', linewidth=0.6)
        ax.set_axisbelow(True)
        for s in ax.spines.values():
            s.set_color(border)
            s.set_linewidth(1.0)
        ax.tick_params(which='minor', length=0)
        ax.tick_params(which='major', length=3.2, width=0.8, color='#333333',
                       labelsize=11, labelcolor='#1a1a1a', pad=2)
        if j > 0:
            ax.tick_params(axis='y', which='both', left=False, labelleft=False)
        if i < len(configs) - 1:
            ax.tick_params(axis='x', which='both', bottom=False, labelbottom=False)

        ys, x0s, x1s = [], [], []
        for r, segs in enumerate(runs[(m, c)]):
            for s0, s1 in segs:
                ys.append(r)
                x0s.append(s0)
                x1s.append(s1)
        lc = ax.hlines(ys, x0s, x1s, colors=green, linewidth=2.9)
        lc.set_capstyle('butt')
        lc.set_snap(False)

        # right strip for each row
        if j == len(machines) - 1:
            sax = px_axes(col_left[j] + panel_w, row_top[i], strip_right_w, panel_h)
            sax.set_facecolor('#cccccc')
            sax.set_xticks([])
            sax.set_yticks([])
            for s in sax.spines.values():
                s.set_color(border)
                s.set_linewidth(1.0)
            sax.text(0.5, 0.5, c, rotation=-90, ha='center', va='center',
                     fontsize=11, color='#1a1a1a', transform=sax.transAxes)

    # top strip
    tax = px_axes(col_left[j], strip_top, panel_w, row_top[0] - strip_top)
    tax.set_facecolor('#cccccc')
    tax.set_xticks([])
    tax.set_yticks([])
    for s in tax.spines.values():
        s.set_color(border)
        s.set_linewidth(1.0)
    tax.text(0.5, 0.5, m, ha='center', va='center', fontsize=11,
             color='#1a1a1a', transform=tax.transAxes)

fig.text(22 / W, 1 - 303 / H, 'Run (order)', rotation=90, ha='center', va='center', fontsize=13)
fig.text(571 / W, 1 - 605 / H, 'Time (s)', ha='center', va='center', fontsize=13)

fig.savefig('out.png', dpi=100, facecolor='white')
